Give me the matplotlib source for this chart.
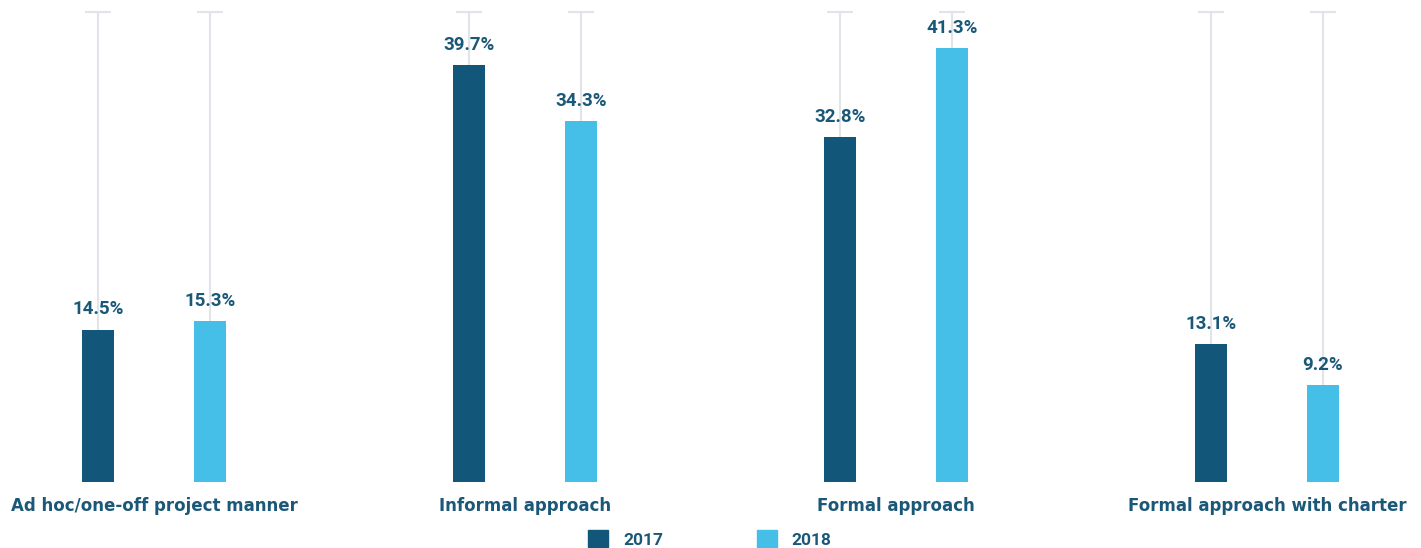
import numpy as np
from matplotlib import pyplot as plt
from matplotlib.patches import Patch

# Data
categories = ['Ad hoc/one-off project manner', 'Informal approach',
              'Formal approach', 'Formal approach with charter']
years = ['2017', '2018']
values_2017 = [14.5, 39.7, 32.8, 13.1]
values_2018 = [15.3, 34.3, 41.3, 9.2]

dark = '#125779'
light = '#45BEE8'
text_col = '#1B5878'
grid_col = '#E1E5E9'

plt.rcParams['font.family'] = ['Roboto', 'DejaVu Sans']

fig = plt.figure(figsize=(14.21, 5.48), dpi=100)
ax = fig.add_axes([0, 66 / 548, 1, (482 - 9) / 548])

x = np.arange(len(categories))
off = 0.151
w = 0.086
top = 44.75

for xs, vals, col in [(x - off, values_2017, dark), (x + off, values_2018, light)]:
    # thin grey guide line behind each bar with a small cap on top
    ax.vlines(xs, 0, top, color=grid_col, lw=1.5, zorder=1)
    ax.plot(xs, [top] * len(xs), ls='none', marker='_', ms=19, mew=1.5,
            color=grid_col, zorder=1)
    bars = ax.bar(xs, vals, width=w, color=col, zorder=2)
    for b, v in zip(bars, vals):
        ax.annotate(f'{v:.1f}%', (b.get_x() + b.get_width() / 2, v),
                    xytext=(0, 8), textcoords='offset points',
                    ha='center', va='bottom', fontsize=13.5,
                    fontweight='bold', color=text_col)

ax.set_xlim(-0.415, 3.415)
ax.set_ylim(0, 45)
ax.set_xticks(x)
ax.set_xticklabels(categories, fontsize=12, fontweight='bold', color=text_col,
                   family='DejaVu Sans')
ax.tick_params(axis='x', length=0, pad=10.5)
ax.set_yticks([])
for s in ax.spines.values():
    s.set_visible(False)

handles = [Patch(color=dark), Patch(color=light)]
leg = fig.legend(handles, years, loc='center', bbox_to_anchor=(710 / 1421, 1 - 539 / 548),
                 ncol=2, frameon=False, fontsize=12.5, handlelength=1.15,
                 handleheight=1.15, handletextpad=0.85, columnspacing=5.4)
for t in leg.get_texts():
    t.set_color(text_col)
    t.set_fontweight('bold')

fig.savefig('out.png', dpi=100)
